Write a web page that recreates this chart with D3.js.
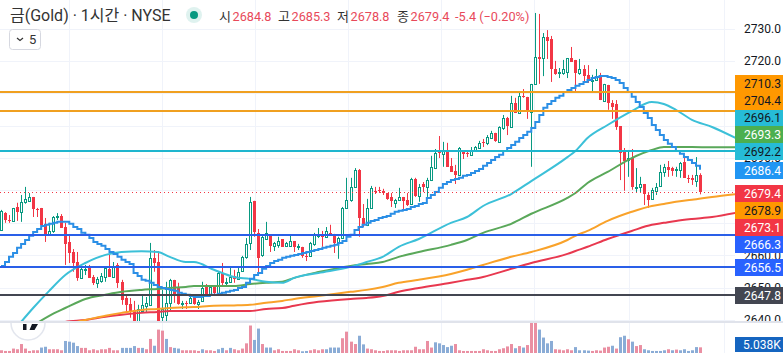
<!DOCTYPE html>
<html>
<head>
<meta charset="utf-8">
<script src="https://cdn.jsdelivr.net/npm/d3@7"></script>
<style>
html, body { margin: 0; padding: 0; background: #fff; overflow: hidden; }
text { font-family: Roboto, "Noto Sans CJK KR", sans-serif; }
</style>
</head>
<body>
<div id="chart"></div>
<script>
// candles
const open = [2667.8,2673.0,2670.9,2670.6,2674.9,2673.4,2676.5,2676.8,2678.0,2674.3,2674.6,2669.7,2666.6,2667.5,2671.8,2672.1,2668.7,2664.1,2661.0,2657.9,2653.0,2655.6,2656.1,2653.3,2651.5,2652.1,2653.3,2655.8,2653.3,2657.0,2651.8,2646.8,2645.0,2643.1,2639.7,2642.8,2644.4,2644.7,2659.2,2657.9,2641.0,2641.6,2645.3,2652.4,2649.9,2645.0,2645.1,2645.3,2646.8,2645.0,2645.9,2650.2,2648.1,2650.2,2648.4,2654.5,2651.4,2651.8,2653.6,2652.7,2655.2,2659.5,2663.8,2676.8,2666.9,2660.1,2665.0,2666.3,2662.9,2663.2,2665.0,2662.9,2662.9,2664.4,2662.6,2662.6,2659.9,2659.8,2663.5,2666.0,2666.6,2665.7,2666.9,2666.3,2663.8,2665.3,2674.6,2677.1,2681.1,2686.3,2671.5,2669.4,2674.6,2679.9,2680.2,2679.9,2679.2,2678.0,2676.2,2677.1,2678.0,2677.1,2675.8,2683.5,2678.3,2682.0,2681.1,2683.2,2687.0,2691.9,2691.3,2692.2,2687.6,2686.0,2684.8,2692.2,2691.6,2691.0,2692.2,2693.1,2695.0,2694.7,2696.2,2697.8,2695.0,2699.3,2702.4,2699.6,2707.0,2703.9,2709.2,2708.9,2704.2,2712.9,2721.2,2720.9,2727.4,2726.8,2717.5,2716.5,2716.3,2716.6,2720.9,2720.3,2716.3,2717.5,2715.7,2714.0,2714.1,2715.3,2707.6,2712.6,2707.0,2706.7,2699.9,2692.2,2689.4,2690.0,2681.0,2681.1,2682.0,2678.6,2677.4,2680.0,2681.4,2685.7,2687.3,2687.0,2686.3,2686.3,2688.8,2683.9,2683.9,2683.0,2684.8];
const high = [2674.0,2673.3,2672.4,2674.6,2676.2,2678.6,2681.1,2679.2,2678.0,2674.6,2674.6,2671.5,2670.0,2672.1,2673.0,2672.7,2670.0,2666.3,2661.9,2661.0,2656.1,2657.0,2657.0,2653.9,2653.3,2654.5,2656.4,2660.7,2657.9,2657.6,2652.4,2647.7,2646.8,2645.9,2644.7,2647.7,2647.1,2663.8,2661.6,2661.3,2649.3,2651.8,2652.7,2652.4,2651.5,2645.9,2645.9,2647.1,2647.4,2646.2,2651.8,2651.1,2650.5,2650.5,2654.9,2657.6,2653.0,2656.1,2655.5,2656.1,2659.8,2665.3,2678.0,2676.8,2668.1,2666.3,2670.3,2666.3,2664.1,2665.7,2665.0,2664.1,2666.3,2664.4,2663.5,2662.6,2661.0,2664.1,2666.9,2668.4,2667.5,2668.7,2669.4,2666.6,2665.7,2674.9,2683.9,2683.9,2686.9,2686.6,2675.8,2677.4,2681.4,2681.1,2681.1,2680.5,2679.2,2679.2,2677.4,2680.8,2678.0,2679.2,2683.9,2683.9,2682.0,2682.6,2683.9,2690.7,2692.8,2696.8,2695.0,2694.7,2690.0,2687.9,2693.4,2692.2,2692.2,2693.4,2693.7,2695.3,2695.9,2697.1,2698.4,2697.8,2699.8,2703.3,2702.7,2709.2,2708.6,2710.1,2711.3,2708.9,2712.9,2734.8,2734.5,2728.6,2729.5,2727.7,2720.0,2717.8,2720.3,2720.9,2724.3,2720.3,2720.6,2718.7,2718.7,2715.7,2717.5,2716.3,2712.9,2712.6,2707.9,2707.9,2699.9,2693.1,2692.5,2692.8,2686.9,2684.2,2682.0,2679.2,2680.8,2682.3,2687.9,2688.2,2689.1,2687.3,2687.3,2688.8,2690.0,2684.8,2684.8,2690.3,2685.3];
const low = [2667.8,2670.0,2670.0,2670.6,2670.6,2670.3,2675.9,2676.5,2671.8,2671.8,2668.4,2664.1,2666.3,2666.9,2670.9,2668.4,2657.0,2657.6,2654.9,2652.1,2652.7,2653.9,2653.0,2650.8,2649.9,2651.5,2651.8,2653.3,2653.3,2649.9,2644.7,2642.5,2640.7,2639.4,2639.4,2642.8,2642.5,2644.4,2654.9,2639.4,2639.4,2639.4,2642.8,2645.3,2644.7,2643.4,2643.4,2645.3,2644.7,2643.4,2645.6,2647.8,2647.8,2647.8,2647.8,2650.8,2650.2,2651.5,2651.5,2652.4,2654.9,2658.9,2661.6,2665.7,2653.9,2659.5,2664.7,2661.0,2661.3,2662.3,2662.6,2662.6,2662.6,2661.0,2661.6,2659.2,2658.2,2659.5,2662.9,2665.3,2662.6,2665.7,2666.3,2660.7,2658.9,2665.0,2674.3,2676.5,2680.8,2665.7,2668.7,2669.0,2674.3,2678.9,2679.2,2678.6,2677.1,2674.9,2674.6,2676.8,2674.0,2675.2,2675.5,2678.0,2676.5,2679.5,2678.0,2682.9,2686.6,2690.0,2687.3,2687.3,2685.7,2682.0,2684.5,2689.7,2690.3,2690.7,2691.9,2692.8,2693.4,2694.0,2696.2,2695.0,2695.0,2698.7,2697.1,2699.6,2703.9,2703.6,2708.6,2702.1,2687.3,2712.6,2712.9,2715.3,2720.6,2713.5,2715.7,2714.7,2715.7,2714.7,2719.7,2710.1,2715.7,2713.5,2713.2,2710.4,2713.8,2707.9,2707.6,2704.9,2702.1,2698.7,2683.2,2679.9,2684.2,2680.2,2679.5,2679.5,2675.5,2674.6,2677.1,2678.6,2681.1,2684.2,2684.2,2684.5,2684.2,2683.9,2683.9,2682.3,2681.7,2681.1,2678.8];
const close = [2673.7,2670.9,2670.6,2674.6,2673.4,2676.5,2677.4,2678.0,2674.3,2674.0,2669.4,2666.6,2667.5,2671.8,2672.1,2668.4,2663.5,2660.7,2657.6,2653.0,2655.8,2655.8,2653.0,2651.5,2652.7,2653.6,2656.1,2653.3,2656.7,2651.5,2646.2,2644.7,2642.8,2639.7,2643.4,2644.7,2645.3,2659.2,2657.6,2639.7,2643.4,2645.3,2652.4,2647.8,2645.0,2645.3,2644.9,2646.8,2645.0,2645.6,2649.9,2647.8,2650.2,2648.4,2654.5,2651.5,2651.6,2653.3,2652.7,2654.9,2659.5,2663.5,2676.5,2667.2,2659.2,2665.7,2666.9,2662.9,2663.8,2664.4,2662.6,2663.8,2664.4,2662.6,2662.9,2659.8,2659.7,2663.8,2666.6,2666.3,2665.7,2667.5,2666.3,2663.8,2665.3,2674.6,2677.1,2681.1,2686.3,2671.5,2669.7,2674.6,2680.8,2679.5,2679.9,2679.2,2677.4,2676.8,2677.1,2678.0,2676.8,2675.5,2683.5,2678.3,2681.1,2681.1,2683.2,2687.3,2691.6,2691.6,2692.2,2687.3,2685.7,2684.8,2693.1,2691.3,2691.3,2692.2,2693.4,2694.7,2694.7,2696.5,2697.8,2695.3,2699.6,2702.4,2699.9,2707.0,2703.9,2709.2,2708.9,2704.2,2712.9,2721.2,2720.6,2727.4,2726.1,2717.5,2716.0,2716.7,2717.5,2720.9,2719.7,2716.3,2717.5,2715.3,2713.8,2714.2,2715.3,2707.9,2712.9,2707.0,2705.8,2699.6,2691.6,2689.1,2690.0,2681.1,2681.2,2682.0,2678.9,2677.1,2680.2,2681.1,2685.7,2687.3,2686.3,2686.0,2686.6,2688.5,2683.9,2683.6,2683.2,2684.8,2679.4];
const volume = [2.4,1.8,1.8,3.9,3.3,7.9,3.9,1.8,2.4,2.4,4.8,5.5,3.3,3.3,3.3,2.4,10.6,10.0,9.1,6.1,4.5,4.5,2.4,3.3,2.4,3.3,3.3,4.5,2.4,2.4,4.5,4.5,4.5,6.1,4.5,4.5,3.3,12.4,6.4,20.6,19.7,12.4,5.2,4.5,3.9,2.4,2.4,2.4,2.4,1.8,3.3,2.4,2.4,1.8,3.3,4.5,2.4,4.5,3.3,2.4,3.9,8.5,24.2,11.5,21.5,7.9,4.8,4.8,2.4,3.3,1.8,1.8,1.8,3.3,2.4,1.5,1.8,2.4,3.3,2.4,3.3,3.3,4.8,4.8,4.8,13.0,18.8,10.0,7.9,15.2,7.6,3.9,3.3,2.4,1.8,1.8,2.4,2.4,2.4,1.8,2.4,2.4,2.4,5.5,3.3,3.3,10.6,4.8,9.4,8.5,7.0,5.2,6.4,7.9,2.4,1.8,1.8,1.8,1.8,1.8,3.3,2.4,1.8,1.8,3.3,4.2,5.8,7.9,4.2,6.1,4.8,7.0,27.3,27.3,20.6,13.6,8.5,10.6,3.3,3.0,2.4,3.3,2.4,5.2,2.4,2.4,2.1,1.8,2.4,2.1,4.8,5.5,6.4,3.9,13.9,15.2,12.1,10.0,6.1,7.0,3.3,2.4,1.8,1.8,1.8,2.4,3.3,2.4,3.0,2.4,3.3,1.8,2.4,5.2,5.0];
// bars whose volume is drawn blue, the rest are pink
const volBlue = [10,11,16,17,18,19,30,31,32,33,35,38,41,43,44,50,54,55,57,63,64,66,67,75,76,81,82,83,84,89,90,108,109,110,111,112,128,130,134,135,136,137,143,144,145,146,152,154,155,157,160,161,162,163,164,165,167,169,170,171,172,173];

// stepped trend line, one value a bar
const trend = [2656.7,2657.9,2659.5,2660.7,2662.3,2663.5,2664.7,2666.0,2667.2,2668.1,2669.0,2669.4,2669.7,2670.0,2670.3,2670.3,2670.3,2669.7,2668.7,2668.1,2666.9,2666.3,2665.3,2664.1,2663.5,2662.9,2661.9,2661.0,2660.4,2659.5,2658.6,2657.9,2657.3,2654.5,2653.6,2652.4,2652.1,2651.5,2650.8,2650.2,2649.9,2649.6,2649.3,2649.0,2648.4,2648.1,2647.8,2647.4,2647.1,2647.1,2647.4,2647.4,2647.8,2647.8,2648.1,2648.4,2648.7,2649.0,2649.3,2649.9,2650.2,2651.5,2652.7,2653.9,2654.5,2655.8,2656.7,2657.6,2658.2,2658.6,2659.2,2659.5,2659.8,2660.1,2660.4,2660.7,2661.0,2661.3,2661.6,2661.9,2662.3,2662.6,2662.9,2663.2,2663.8,2664.4,2665.7,2666.3,2667.8,2668.7,2669.4,2670.0,2670.6,2670.9,2671.5,2671.8,2672.1,2672.8,2673.4,2673.7,2674.0,2674.3,2674.9,2675.2,2675.8,2676.1,2677.7,2678.6,2679.5,2680.8,2682.0,2682.6,2683.2,2683.5,2683.9,2684.5,2684.8,2685.4,2686.0,2686.6,2687.6,2688.5,2689.4,2690.3,2691.0,2692.2,2693.1,2694.0,2695.0,2696.2,2697.1,2698.1,2699.3,2701.1,2703.3,2705.5,2706.7,2707.6,2708.6,2709.2,2710.4,2711.0,2711.6,2712.3,2712.9,2713.5,2714.1,2714.7,2715.0,2715.3,2715.3,2715.0,2714.7,2714.1,2713.2,2711.6,2710.4,2708.9,2707.3,2705.8,2703.9,2702.4,2700.2,2698.7,2697.1,2695.6,2694.4,2693.4,2692.2,2691.3,2690.3,2689.4,2688.5,2687.6,2686.4];

// moving averages, sampled at these bars
const maBars = [5,8,12,16,21,26,30,35,39,42,46,48,53,58,62,66,70,73,79,87,91,95,99,104,112,116,120,127,132,141,143,146,151,157,162,165,168,172,177,183];
const maCyan = [2639.4,2643.7,2649.0,2653.9,2657.6,2660.1,2661.0,2661.2,2661.0,2659.5,2657.9,2657.9,2655.5,2653.3,2652.7,2651.8,2651.5,2653.0,2654.5,2656.4,2657.9,2659.5,2662.6,2665.0,2670.0,2671.8,2675.2,2678.9,2682.9,2690.3,2692.2,2696.2,2700.2,2704.5,2707.3,2706.7,2704.9,2701.8,2699.6,2696.1];
const maGreen = [2635.4,2638.2,2641.3,2643.7,2646.5,2647.8,2648.7,2649.3,2649.6,2649.9,2650.2,2650.5,2650.5,2650.5,2651.1,2651.5,2651.8,2653.0,2654.8,2656.7,2657.3,2657.9,2659.5,2661.0,2663.2,2664.7,2666.9,2669.7,2672.8,2677.7,2679.2,2682.3,2685.7,2690.0,2692.5,2693.4,2693.4,2693.4,2693.3,2693.3];
const maOrange = [2637.6,2638.2,2638.5,2638.8,2640.0,2641.3,2642.2,2643.1,2643.4,2643.7,2643.9,2644.0,2644.4,2644.5,2644.7,2645.3,2645.9,2646.5,2647.4,2648.7,2649.3,2650.2,2651.5,2652.4,2654.2,2655.5,2657.0,2659.5,2661.0,2664.7,2666.0,2667.5,2670.6,2673.4,2675.2,2675.8,2676.5,2677.1,2678.0,2678.9];
const maRed = [2635.1,2636.6,2638.2,2639.4,2640.0,2641.0,2641.6,2642.2,2642.5,2642.8,2642.8,2642.8,2642.8,2642.8,2642.8,2643.4,2643.7,2644.4,2645.6,2646.5,2646.8,2647.4,2648.7,2649.9,2651.5,2652.4,2653.3,2655.8,2657.6,2660.4,2661.3,2662.6,2665.0,2667.5,2669.4,2670.0,2670.6,2671.2,2671.8,2673.1];

// horizontal levels and price tags
const levelValues = [2710.3,2704.4,2692.2,2666.3,2656.5,2647.8];
const levelColors = ["#f0a020","#f0a020","#1fb6cf","#2a5fe8","#2a5fe8","#434651"];
const tagLabels = ["2710.3","2704.4","2696.1","2693.3","2692.2","2686.4","2679.4","2678.9","2673.1","2666.3","2656.5","2647.8"];
const tagColors = ["#ff9800","#ff9800","#26bcd7","#4caf50","#26bcd7","#2196f3","#f23645","#ff9800","#f23645","#2962ff","#2962ff","#434651"];
const tagText = ["#131722","#131722","#131722","#fff","#131722","#fff","#fff","#131722","#fff","#fff","#fff","#fff"];
// the other round prices sit fully behind the tags, only their grid lines show
const gridValues = [2640,2650,2660,2670,2680,2690,2700,2710,2720,2730];
const tickLabels = [2640,2650,2660,2690,2720,2730];
const gridBars = [17,40,63.2,86.4,109.5,132.7,156.3,180];

const W = 783, H = 355;
const axisX = 735, paneBottom = 321, volBottom = 353;
const green = "#089981", red = "#f23645";

const svg = d3.select("#chart").append("svg")
    .attr("width", W).attr("height", H)
    .style("display", "block");

svg.append("clipPath").attr("id", "pane")
  .append("rect").attr("width", axisX).attr("height", paneBottom);

const x = d3.scaleLinear().domain([0, 174]).range([1, 700]);
const y = d3.scaleLinear().domain([2640, 2730]).range([320, 28.5]);
const yVol = d3.scaleLinear().domain([0, 27.3]).range([volBottom, volBottom - 31]);
const px = v => Math.round(x(v));

// grid
svg.append("g").selectAll("line").data(gridValues).join("line")
    .attr("x1", 0).attr("x2", axisX)
    .attr("y1", d => Math.round(y(d)) + 0.5).attr("y2", d => Math.round(y(d)) + 0.5)
    .attr("stroke", "#f0f3fa");
svg.append("g").selectAll("line").data(gridBars).join("line")
    .attr("x1", d => px(d) + 0.5).attr("x2", d => px(d) + 0.5)
    .attr("y1", 0).attr("y2", volBottom)
    .attr("stroke", "#f0f3fa");

// volume
svg.append("g").selectAll("rect").data(volume).join("rect")
    .attr("x", (d, i) => px(i) - 1)
    .attr("width", 3)
    .attr("y", d => yVol(d))
    .attr("height", d => volBottom - yVol(d))
    .attr("fill", (d, i) => volBlue.includes(i) ? "#8aacd6" : "#ea8fa2");

// candles
const price = svg.append("g").attr("clip-path", "url(#pane)");
const bars = d3.range(open.length);
price.append("g").selectAll("line").data(bars).join("line")
    .attr("x1", i => px(i) + 0.5).attr("x2", i => px(i) + 0.5)
    .attr("y1", i => y(high[i])).attr("y2", i => y(low[i]))
    .attr("stroke", i => close[i] >= open[i] ? green : red);
price.append("g").selectAll("rect").data(bars.filter(i => close[i] < open[i])).join("rect")
    .attr("x", i => px(i) - 1)
    .attr("width", 3)
    .attr("y", i => Math.round(y(open[i])))
    .attr("height", i => Math.max(1, Math.round(y(close[i]) - y(open[i]))))
    .attr("fill", red);
// up candles are hollow
price.append("g").selectAll("rect").data(bars.filter(i => close[i] >= open[i])).join("rect")
    .attr("x", i => px(i) - 0.5)
    .attr("width", 2)
    .attr("y", i => Math.round(y(close[i])) + 0.5)
    .attr("height", i => Math.max(1, Math.round(y(open[i]) - y(close[i]))))
    .attr("fill", "#fff")
    .attr("stroke", green);

// moving averages
const maLine = d3.line().x((d, i) => x(maBars[i])).y(d => y(d)).curve(d3.curveMonotoneX);
[[maRed, "#e8384f"], [maOrange, "#f9a22a"], [maGreen, "#5aa85a"], [maCyan, "#3cc0d8"]].forEach(([vals, col]) => {
  price.append("path").attr("d", maLine(vals))
      .attr("fill", "none").attr("stroke", col).attr("stroke-width", 2);
});

// stepped trend
const trendLine = d3.line().x((d, i) => x(i)).y(d => y(d)).curve(d3.curveStepAfter);
price.append("path").attr("d", trendLine(trend))
    .attr("fill", "none").attr("stroke", "#2b8fe6").attr("stroke-width", 2);

// levels
svg.append("g").selectAll("line").data(levelValues).join("line")
    .attr("x1", 0).attr("x2", axisX)
    .attr("y1", d => Math.round(y(d))).attr("y2", d => Math.round(y(d)))
    .attr("stroke", (d, i) => levelColors[i]).attr("stroke-width", 2);

// last price line
svg.append("line")
    .attr("x1", 0).attr("x2", axisX)
    .attr("y1", Math.round(y(close[close.length - 1])) + 0.5)
    .attr("y2", Math.round(y(close[close.length - 1])) + 0.5)
    .attr("stroke", red).attr("stroke-dasharray", "1 3");

// pane separator
svg.append("rect").attr("x", 0).attr("y", paneBottom).attr("width", W).attr("height", 2).attr("fill", "#e0e3eb");

// logo badge, mostly hidden behind the price pane
const logo = svg.append("g");
logo.append("clipPath").attr("id", "logoClip")
  .append("rect").attr("x", 0).attr("y", 323).attr("width", 60).attr("height", 32);
logo.append("circle").attr("cx", 28).attr("cy", 323).attr("r", 17)
    .attr("fill", "none").attr("stroke", "#e3e6ee").attr("stroke-width", 1.5)
    .attr("clip-path", "url(#logoClip)");
logo.append("path").attr("d", "M23 324h3.5v6h-3.5z M32 324h6l-3.5 6h-5z").attr("fill", "#131722");

// price axis
svg.append("clipPath").attr("id", "axisClip")
  .append("rect").attr("x", axisX).attr("y", 0).attr("width", W - axisX).attr("height", paneBottom);
const axis = svg.append("g")
    .attr("clip-path", "url(#axisClip)")
  .append("g")
    .attr("transform", `translate(${axisX},0)`)
    .call(d3.axisRight(y).tickValues(tickLabels).tickSize(0).tickPadding(9).tickFormat(d3.format(".1f")));
axis.select(".domain").remove();
axis.selectAll("text").attr("fill", "#131722").style("font-size", "12px");

// price tags
const tagTop = [75,92,110,126,143,162,185,202,219,236,259,287];
const tagH = [17,18,16,17,17,17,17,17,17,17,17,17];
const tags = svg.append("g");
tags.selectAll("rect").data(tagLabels).join("rect")
    .attr("x", axisX).attr("width", W - axisX)
    .attr("y", (d, i) => tagTop[i]).attr("height", (d, i) => tagH[i])
    .attr("fill", (d, i) => tagColors[i]);
tags.selectAll("text").data(tagLabels).join("text")
    .attr("x", axisX + 9)
    .attr("y", (d, i) => tagTop[i] + tagH[i] / 2 + 4)
    .attr("fill", (d, i) => tagText[i])
    .style("font-size", "12px")
    .text(d => d);

// volume tag
svg.append("rect").attr("x", axisX).attr("y", 337).attr("width", W - axisX).attr("height", 15).attr("fill", "#1565c0");
svg.append("text").attr("x", axisX + 8).attr("y", 349).attr("fill", "#fff").style("font-size", "12px").text("5.038K");

// legend
svg.append("text").attr("x", 10).attr("y", 21).attr("fill", "#333").style("font-size", "16px").text("금(Gold) · 1시간 · NYSE");
svg.append("circle").attr("cx", 194).attr("cy", 15).attr("r", 8).attr("fill", "#089981").attr("opacity", 0.13);
svg.append("circle").attr("cx", 194).attr("cy", 15).attr("r", 4).attr("fill", "#089981");

const legendLabels = ["시","고","저","종"];
const legendValues = ["2684.8","2685.3","2678.8","2679.4"];
const legendLabelX = [219,278,337,397];
legendLabels.forEach((d, i) => {
  svg.append("text").attr("x", legendLabelX[i]).attr("y", 21).attr("fill", "#333").style("font-size", "13px").text(d);
  svg.append("text").attr("x", legendLabelX[i] + 13.5).attr("y", 21).attr("fill", "#e8495a").style("font-size", "12.7px").text(legendValues[i]);
});
svg.append("text").attr("x", 455).attr("y", 21).attr("fill", "#e8495a").style("font-size", "12.7px").text("-5.4 (−0.20%)");

// collapsed indicator button
svg.append("rect").attr("x", 9.5).attr("y", 29.5).attr("width", 31).attr("height", 20).attr("rx", 3)
    .attr("fill", "#fff").attr("stroke", "#d6d8e0");
svg.append("path").attr("d", "M17 38l3 2.5l3 -2.5").attr("fill", "none").attr("stroke", "#333").attr("stroke-width", 1.2);
svg.append("text").attr("x", 29).attr("y", 44).attr("fill", "#333").style("font-size", "13px").text("5");
</script>
</body>
</html>
